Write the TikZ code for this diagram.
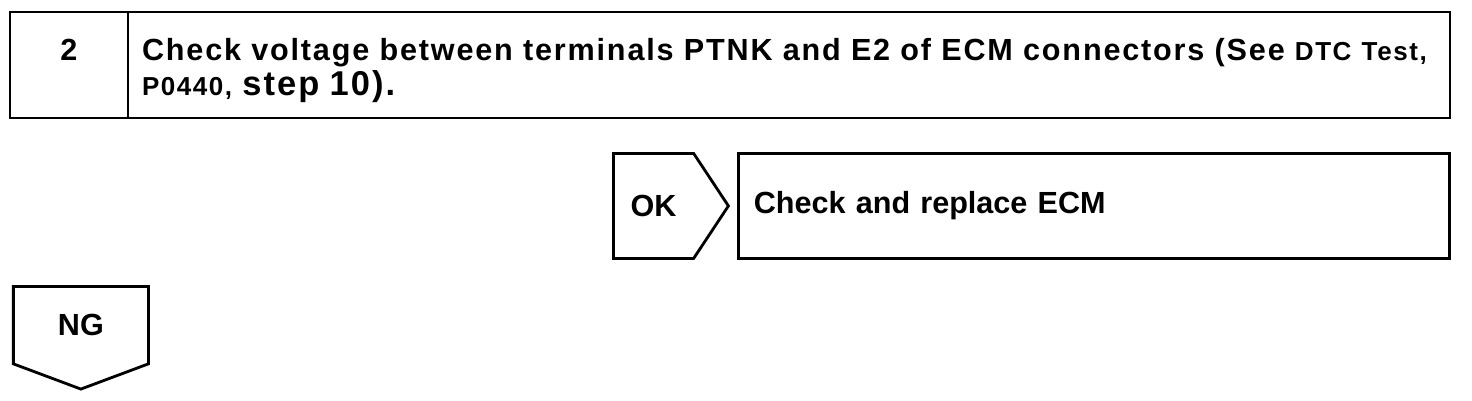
\documentclass[tikz,border=0pt]{standalone}
\usepackage{fontspec}
\setmainfont{Liberation Sans}
\usepackage{tikz}
\usetikzlibrary{positioning,shapes.symbols}

\newcommand{\bigtxt}{\fontsize{8.7}{10}\selectfont\bfseries}
\newcommand{\widetxt}{\fontsize{8.7}{10}\selectfont\bfseries\addfontfeature{LetterSpace=6}}
\newcommand{\smalltxt}{\fontsize{7.4}{10}\selectfont}
\newcommand{\steptxt}{\fontsize{9.8}{10}\selectfont}

\begin{document}
\begin{tikzpicture}[
    line width=0.8pt,
    numcell/.style={draw, anchor=north west, outer sep=0pt, minimum width=1.18cm, minimum height=1.06cm, inner sep=0pt, text height=0.22cm, text depth=0.32cm, font=\bigtxt},
    stepbox/.style={draw, outer sep=0pt, minimum width=13.22cm, minimum height=1.06cm, text width=12.94cm, text height=0.33cm, align=left, inner xsep=0.14cm, inner ysep=0pt, font=\widetxt},
    resultbox/.style={draw, minimum width=7.11cm, minimum height=1.05cm, text width=6.8cm, align=left, inner xsep=0.15cm, inner ysep=0pt, font=\bigtxt},
    okflag/.style={draw, signal, signal to=east, signal pointer angle=113, minimum width=1.15cm, minimum height=1.05cm, inner sep=0pt, font=\bigtxt},
    ngflag/.style={draw, signal, signal to=south, signal pointer angle=139, minimum width=1.35cm, minimum height=0.86cm, inner sep=0pt, font=\bigtxt}
]
\useasboundingbox (0,0) rectangle (14.72,-4.00);

% step header
\node[numcell] (num) at (0.10,-0.12) {2};
\node[stepbox, right=0pt of num] (chk) {Check voltage between terminals PTNK and E2 of ECM connectors (See {\smalltxt DTC Test,}\\{\smalltxt P0440,} {\steptxt step 10).}};

% results
\node[okflag, anchor=north west] (ok) at (6.12,-1.52) {OK};
\node[resultbox, anchor=north west] (repl) at (7.37,-1.52) {Check and replace ECM};
\node[ngflag, anchor=north west] (ng) at (0.12,-2.85) {NG};
\end{tikzpicture}
\end{document}
